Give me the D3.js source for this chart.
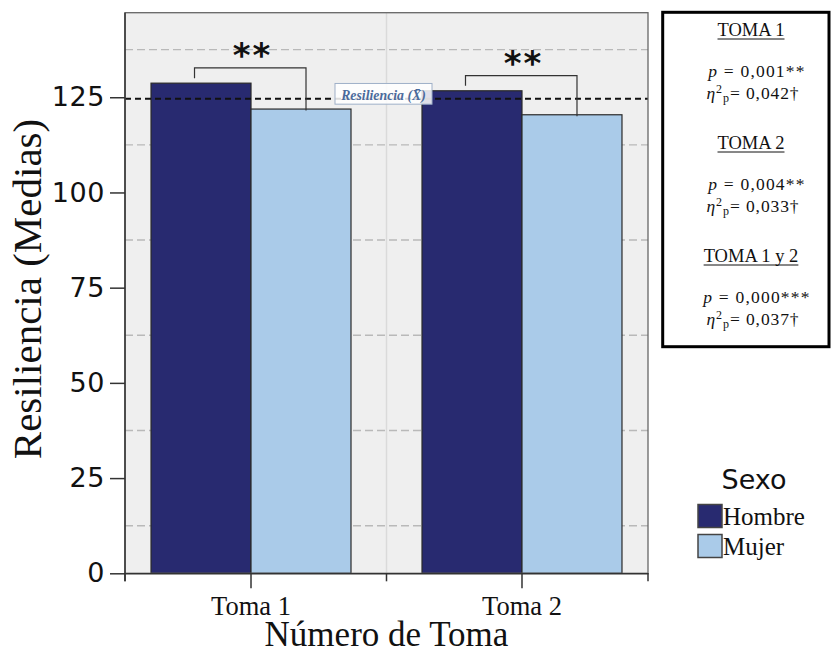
<!DOCTYPE html>
<html>
<head>
<meta charset="utf-8">
<script src="https://cdn.jsdelivr.net/npm/d3@7"></script>
<style>
  html, body { margin: 0; padding: 0; background: #ffffff; }
  svg { display: block; }
</style>
</head>
<body>
<svg id="chart" width="831" height="659"></svg>
<script>
// ---- Data ----
const tomas = ["Toma 1", "Toma 2"];
const sexos = ["Hombre", "Mujer"];
const hombre = [128.7, 126.7];
const mujer = [121.9, 120.4];
const mediaResiliencia = 124.6;
const yTicks = [0, 25, 50, 75, 100, 125];
const yGridMenor = [12.5, 37.5, 62.5, 87.5, 112.5, 137.5];
const significacion = ["**", "**"];
const bloqueTitulos = ["TOMA 1", "TOMA 2", "TOMA 1 y 2"];
const bloqueP = ["0,001**", "0,004**", "0,000***"];
const bloqueEta = ["0,042\u2020", "0,033\u2020", "0,037\u2020"];

const colores = { Hombre: "#282a70", Mujer: "#aacbe9" };

const svg = d3.select("#chart");
const serif = "'Liberation Serif', 'Times New Roman', serif";
const sans = "'DejaVu Sans', Verdana, sans-serif";

// ---- Plot area ----
const pL = 125, pR = 648, pT = 12.7, pB = 573.3;

const y = d3.scaleLinear().domain([0, 147.2]).range([pB, pT]);
const x = d3.scaleBand().domain(tomas).range([pL, pR])
  .paddingInner(0.262).paddingOuter(0.096);
const xs = d3.scaleBand().domain(sexos).range([0, x.bandwidth()]);

const filas = tomas.map((t, i) => ({ toma: t, Hombre: hombre[i], Mujer: mujer[i] }));

// background
svg.append("rect")
  .attr("x", pL).attr("y", pT)
  .attr("width", pR - pL).attr("height", pB - pT)
  .attr("fill", "#efefef");

// vertical separator between the two groups
const xMid = (x(tomas[0]) + x(tomas[1]) + x.bandwidth()) / 2;
svg.append("line")
  .attr("x1", xMid).attr("x2", xMid)
  .attr("y1", pT).attr("y2", pB)
  .attr("stroke", "#dadada").attr("stroke-width", 1.5);

// minor dashed gridlines
svg.append("g").selectAll("line").data(yGridMenor).join("line")
  .attr("x1", pL).attr("x2", pR)
  .attr("y1", d => y(d)).attr("y2", d => y(d))
  .attr("stroke", "#b9b9b9").attr("stroke-width", 1.4)
  .attr("stroke-dasharray", "8,4");

// bars
const grupos = svg.append("g").selectAll("g").data(filas).join("g")
  .attr("transform", d => `translate(${x(d.toma)},0)`);
grupos.selectAll("rect").data(d => sexos.map(s => ({ sexo: s, v: d[s] }))).join("rect")
  .attr("x", d => xs(d.sexo))
  .attr("y", d => y(d.v))
  .attr("width", xs.bandwidth())
  .attr("height", d => y(0) - y(d.v))
  .attr("fill", d => colores[d.sexo])
  .attr("stroke", "#2a2a2a").attr("stroke-width", 1.2);

// mean reference line
svg.append("line")
  .attr("x1", pL).attr("x2", pR)
  .attr("y1", y(mediaResiliencia)).attr("y2", y(mediaResiliencia))
  .attr("stroke", "#111").attr("stroke-width", 2)
  .attr("stroke-dasharray", "6,4");

// label for the mean line
const lblCx = xMid - 3;
svg.append("rect")
  .attr("x", lblCx - 48.5).attr("y", y(mediaResiliencia) - 15.3)
  .attr("width", 97).attr("height", 20.7)
  .attr("fill", "#ffffff").attr("fill-opacity", 0.85)
  .attr("stroke", "#9fb0c8").attr("stroke-width", 1);
svg.append("text")
  .attr("x", lblCx).attr("y", y(mediaResiliencia) + 1.5)
  .attr("text-anchor", "middle")
  .attr("font-family", serif).attr("font-size", 13.8)
  .attr("font-style", "italic").attr("font-weight", "bold")
  .attr("fill", "#4b6a9b")
  .text("Resiliencia (X\u0304)");

// plot frame
svg.append("rect")
  .attr("x", pL).attr("y", pT)
  .attr("width", pR - pL).attr("height", pB - pT)
  .attr("fill", "none").attr("stroke", "#666").attr("stroke-width", 1.3);

// significance brackets
const brackets = filas.map((d, i) => {
  const xl = x(d.toma) + xs("Hombre") + xs.bandwidth() / 2 - 6.5;
  const xr = x(d.toma) + xs("Mujer") + xs.bandwidth() / 2 + 5;
  const topV = Math.max(d.Hombre, d.Mujer) + 4;
  return { xl, xr, yt: y(topV), yl: y(d.Hombre + 1.3), yr: y(d.Mujer - 0.4), star: significacion[i], cx: x(d.toma) + x.bandwidth() / 2 };
});
svg.append("g").selectAll("path").data(brackets).join("path")
  .attr("d", b => `M${b.xl},${b.yl}V${b.yt}H${b.xr}V${b.yr}`)
  .attr("fill", "none").attr("stroke", "#333").attr("stroke-width", 1.2);
svg.append("g").selectAll("text").data(brackets).join("text")
  .attr("x", b => b.cx + 1.5).attr("y", b => b.yt - 1)
  .attr("text-anchor", "middle")
  .attr("font-family", sans).attr("font-size", 34).attr("font-weight", "bold")
  .attr("letter-spacing", 2)
  .attr("fill", "#111")
  .text(b => b.star);

// ---- Axes ----
const yAxis = svg.append("g")
  .attr("transform", `translate(${pL},0)`)
  .call(d3.axisLeft(y).tickValues(yTicks).tickSize(15).tickPadding(5).tickSizeOuter(0));
yAxis.select(".domain").attr("d", `M0,${y(0) + 8}V${pT}`).attr("stroke", "#333").attr("stroke-width", 1.5);
yAxis.selectAll(".tick line").attr("stroke", "#333").attr("stroke-width", 1.5);
yAxis.selectAll(".tick text")
  .attr("font-family", sans).attr("font-size", 27).attr("letter-spacing", 0.6)
  .attr("fill", "#111");

const xAxis = svg.append("g")
  .attr("transform", `translate(0,${pB})`)
  .call(d3.axisBottom(x).tickSize(15).tickPadding(8).tickSizeOuter(0));
xAxis.select(".domain").attr("stroke", "#333").attr("stroke-width", 1.5);
xAxis.selectAll(".tick line").attr("stroke", "#333").attr("stroke-width", 1.5);
xAxis.selectAll(".tick text")
  .attr("font-family", serif).attr("font-size", 26.5).attr("fill", "#111");
// short ticks at the group boundaries
xAxis.append("g").selectAll("line").data([pL, xMid, pR]).join("line")
  .attr("x1", d => d).attr("x2", d => d)
  .attr("y1", 0).attr("y2", 8)
  .attr("stroke", "#333").attr("stroke-width", 1.5);

// axis titles
svg.append("text")
  .attr("transform", `translate(41,${(pT + pB) / 2 - 4}) rotate(-90)`)
  .attr("text-anchor", "middle")
  .attr("font-family", serif).attr("font-size", 41).attr("fill", "#111")
  .text("Resiliencia (Medias)");
svg.append("text")
  .attr("x", xMid).attr("y", 646)
  .attr("text-anchor", "middle")
  .attr("font-family", serif).attr("font-size", 35).attr("fill", "#111")
  .text("Número de Toma");

// ---- Legend ----
const leg = svg.append("g");
leg.append("text")
  .attr("x", 754).attr("y", 489)
  .attr("text-anchor", "middle")
  .attr("font-family", sans).attr("font-size", 27).attr("fill", "#111")
  .text("Sexo");
const items = leg.selectAll("g.item").data(sexos).join("g")
  .attr("class", "item")
  .attr("transform", (d, i) => `translate(698,${504.5 + i * 30})`);
items.append("rect")
  .attr("width", 24).attr("height", 23)
  .attr("fill", d => colores[d])
  .attr("stroke", "#444").attr("stroke-width", 1.5);
items.append("text")
  .attr("x", 25).attr("y", 20.5)
  .attr("font-family", serif).attr("font-size", 25).attr("fill", "#111")
  .text(d => d);

// ---- Statistics box ----
svg.append("rect")
  .attr("x", 662.7).attr("y", 12.3)
  .attr("width", 166.3).attr("height", 334.4)
  .attr("fill", "#fff").attr("stroke", "#000").attr("stroke-width", 3);

const boxCx = 751;
bloqueTitulos.forEach((t, i) => {
  const by = 36 + i * 113;
  const tt = svg.append("text")
    .attr("x", boxCx).attr("y", by)
    .attr("text-anchor", "middle")
    .attr("font-family", serif).attr("font-size", 18.5).attr("fill", "#111")
    .text(t);
  const w = tt.node().getComputedTextLength();
  svg.append("line")
    .attr("x1", boxCx - w / 2).attr("x2", boxCx + w / 2)
    .attr("y1", by + 3).attr("y2", by + 3)
    .attr("stroke", "#111").attr("stroke-width", 1);

  const pt = svg.append("text")
    .attr("x", boxCx + 6).attr("y", by + 41)
    .attr("text-anchor", "middle")
    .attr("font-family", serif).attr("font-size", 17.5).attr("letter-spacing", 1.2)
    .attr("fill", "#111");
  pt.append("tspan").attr("font-style", "italic").text("p");
  pt.append("tspan").text(" = " + bloqueP[i]);

  const et = svg.append("text")
    .attr("x", boxCx + 2).attr("y", by + 63)
    .attr("text-anchor", "middle")
    .attr("font-family", serif).attr("font-size", 17.5).attr("letter-spacing", 0.9)
    .attr("fill", "#111");
  et.append("tspan").attr("font-style", "italic").text("\u03b7");
  et.append("tspan").attr("font-size", 12).attr("dy", -6).text("2");
  et.append("tspan").attr("font-size", 12).attr("dy", 9).text("p");
  et.append("tspan").attr("dy", -3).text("= " + bloqueEta[i]);
});
</script>
</body>
</html>
